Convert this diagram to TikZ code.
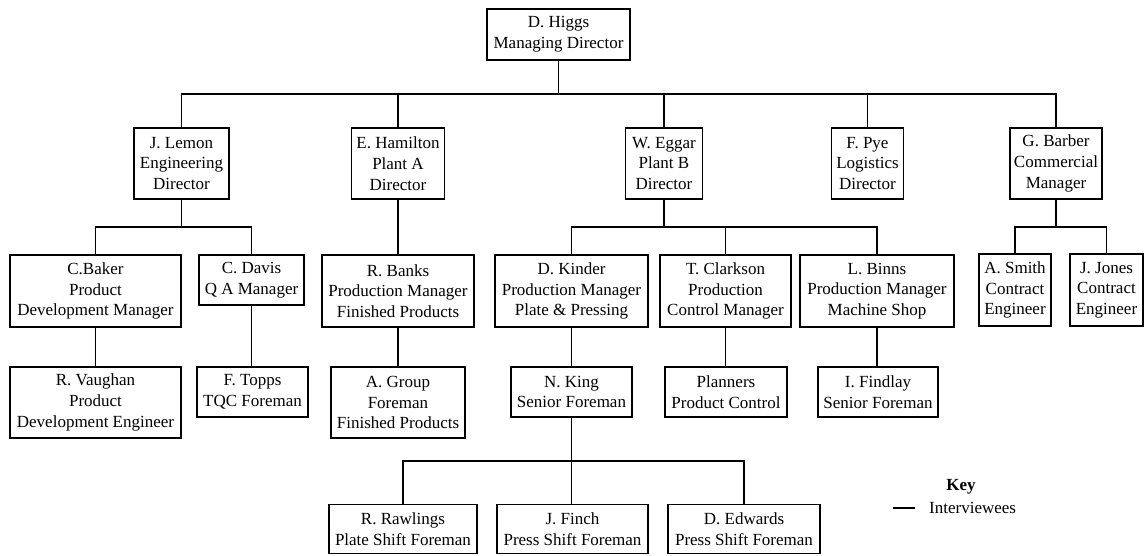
\documentclass[tikz,border=0pt]{standalone}
\usepackage{fontspec}
\setmainfont{Liberation Serif}
\begin{document}
\begin{tikzpicture}[x=1pt,y=1pt,
  box/.style={draw, line width=1.8pt, align=center, inner sep=0pt,
    font=\fontsize{17}{20.7}\selectfont},
  link/.style={line width=1.5pt},
  keytext/.style={inner sep=0pt, font=\fontsize{17}{20.7}\selectfont},
  keyline/.style={line width=2.6pt}]
\useasboundingbox (0,0) rectangle (1146,-556);

% Board
\node[box, minimum width=143pt, minimum height=51pt] (higgs) at (558.5,-34.5) {D. Higgs\\Managing Director};

% Directors
\node[box, minimum width=95pt, minimum height=71pt] (lemon)    at (181.5,-163.5) {J. Lemon\\Engineering\\Director};
\node[box, minimum width=93pt, minimum height=71pt] (hamilton) at (398,-163.5)   {E. Hamilton\\Plant A\\Director};
\node[box, minimum width=77pt, minimum height=71pt] (eggar)    at (664,-163.5)   {W. Eggar\\Plant B\\Director};
\node[box, minimum width=72pt, minimum height=71pt] (pye)      at (867.5,-163.5) {F. Pye\\Logistics\\Director};
\node[box, minimum width=92pt, minimum height=71pt] (barber)   at (1056,-163.5)  {G. Barber\\Commercial\\Manager};

% Managers
\node[box, minimum width=171pt, minimum height=72pt] (baker)    at (95.5,-291)  {C.Baker\\Product\\Development Manager};
\node[box, minimum width=105pt, minimum height=50pt] (davis)    at (251.5,-280) {C. Davis\\Q A Manager};
\node[box, minimum width=152pt, minimum height=72pt] (banks)    at (398,-291)   {R. Banks\\Production Manager\\Finished Products};
\node[box, minimum width=153pt, minimum height=72pt] (kinder)   at (571.5,-291) {D. Kinder\\Production Manager\\Plate \& Pressing};
\node[box, minimum width=131pt, minimum height=72pt] (clarkson) at (725.5,-291) {T. Clarkson\\Production\\Control Manager};
\node[box, minimum width=154pt, minimum height=72pt] (binns)    at (877,-291)   {L. Binns\\Production Manager\\Machine Shop};
\node[box, minimum width=72pt, minimum height=72pt]  (smith)    at (1015,-290)  {A. Smith\\Contract\\Engineer};
\node[box, minimum width=73pt, minimum height=72pt]  (jones)    at (1106.5,-290) {J. Jones\\Contract\\Engineer};

% Engineers and foremen
\node[box, minimum width=171pt, minimum height=71pt] (vaughan)  at (95.5,-402.5) {R. Vaughan\\Product\\Development Engineer};
\node[box, minimum width=111pt, minimum height=50pt] (topps)    at (252.5,-392)  {F. Topps\\TQC Foreman};
\node[box, minimum width=134pt, minimum height=71pt] (group)    at (398,-402.5)  {A. Group\\Foreman\\Finished Products};
\node[box, minimum width=121pt, minimum height=50pt] (king)     at (571.5,-392)  {N. King\\Senior Foreman};
\node[box, minimum width=122pt, minimum height=50pt] (planners) at (726,-392)    {Planners\\Product Control};
\node[box, minimum width=120pt, minimum height=50pt] (findlay)  at (878,-392)    {I. Findlay\\Senior Foreman};

% Shift foremen
\node[box, minimum width=148pt, minimum height=49pt] (rawlings) at (403,-529)   {R. Rawlings\\Plate Shift Foreman};
\node[box, minimum width=151pt, minimum height=49pt] (finch)    at (572.5,-529) {J. Finch\\Press Shift Foreman};
\node[box, minimum width=152pt, minimum height=49pt] (edwards)  at (744,-529)   {D. Edwards\\Press Shift Foreman};

% Levels of the horizontal branch lines
\coordinate (busA) at (0,-94);
\coordinate (busB) at (0,-227);
\coordinate (busC) at (0,-461);

% Managing director to directors
\draw[link] (higgs.south) -- (higgs.south |- busA);
\draw[link] (lemon.north) |- (barber.north |- busA) -- (barber.north);
\draw[link] (hamilton.north) -- (hamilton.north |- busA);
\draw[link] (eggar.north) -- (eggar.north |- busA);
\draw[link] (pye.north) -- (pye.north |- busA);

% Engineering
\draw[link] (lemon.south) -- (lemon.south |- busB);
\draw[link] (baker.north) |- (davis.north |- busB) -- (davis.north);
\draw[link] (baker.south) -- (vaughan.north);
\draw[link] (davis.south) -- (davis.south |- topps.north);

% Plant A
\draw[link] (hamilton.south) -- (banks.north);
\draw[link] (banks.south) -- (group.north);

% Plant B
\draw[link] (eggar.south) -- (eggar.south |- busB);
\draw[link] (kinder.north) |- (binns.north |- busB) -- (binns.north);
\draw[link] (clarkson.north) -- (clarkson.north |- busB);
\draw[link] (kinder.south) -- (king.north);
\draw[link] (clarkson.south) -- (clarkson.south |- planners.north);
\draw[link] (binns.south) -- (binns.south |- findlay.north);
\draw[link] (king.south) -- (king.south |- finch.north);
\draw[link] (rawlings.north) |- (edwards.north |- busC) -- (edwards.north);

% Commercial
\draw[link] (barber.south) -- (barber.south |- busB);
\draw[link] (smith.north) |- (jones.north |- busB) -- (jones.north);

% Key
\node[keytext, font=\fontsize{17}{20.7}\selectfont\bfseries] (keytitle) at (961,-487) {Key};
\node[keytext, anchor=west] (keylabel) at (929,-508) {Interviewees};
\draw[keyline] ([xshift=-14pt]keylabel.west) -- ++(-22pt,0);
\end{tikzpicture}
\end{document}
